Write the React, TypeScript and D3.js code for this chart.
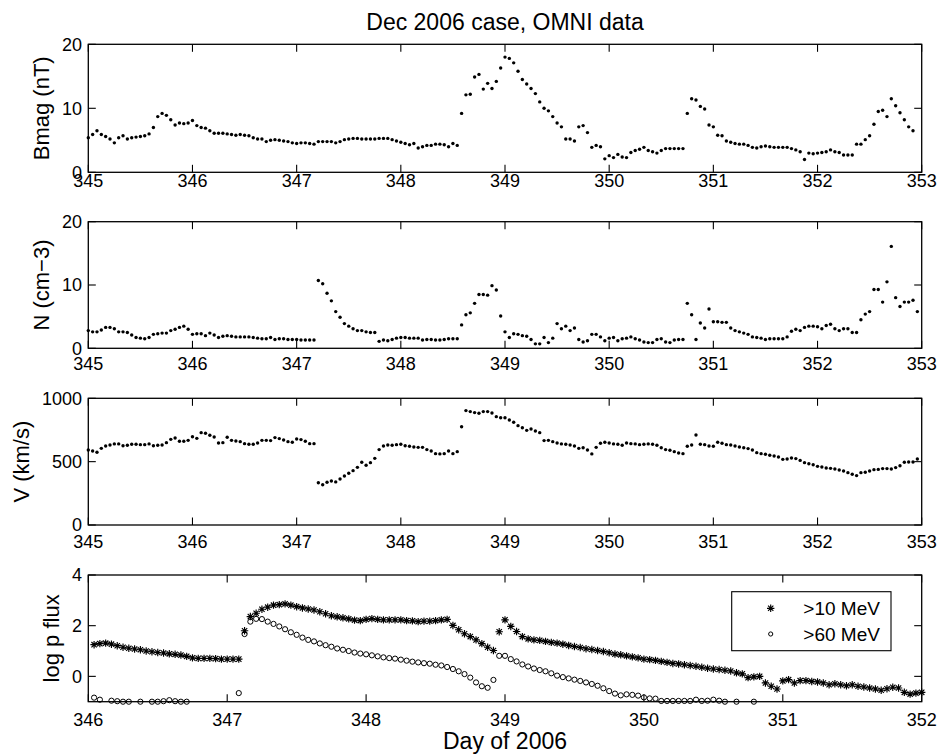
import React from 'react';
import * as d3 from 'd3';

// ---------------- DATA ----------------
// Hourly OMNI samples, first sample at day 345.0
const omniStartDay = 345;
const samplesPerDay = 24;

const bmag = [
  5.4, 5.9, 6.5, 5.9, 5.6, 5.2, 4.6, 5.4, 5.7, 5.2,
  5.4, 5.5, 5.6, 5.7, 6.0, 7.0, 8.7, 9.2, 8.9, 8.2,
  7.4, 7.7, 7.6, 7.7, 8.1, 7.3, 7.0, 6.9, 6.5, 6.1,
  6.1, 6.1, 6.0, 5.9, 5.8, 5.9, 5.8, 5.7, 5.4, 5.2,
  5.2, 4.8, 5.0, 5.1, 5.0, 4.9, 4.8, 4.6, 4.5, 4.6,
  4.6, 4.5, 4.4, 4.8, 4.8, 4.8, 4.8, 4.6, 4.8, 5.1,
  5.2, 5.3, 5.3, 5.2, 5.2, 5.2, 5.2, 5.3, 5.3, 5.3,
  5.1, 4.9, 4.7, 4.5, 4.3, 4.5, 3.8, 4.0, 4.2, 4.2,
  4.4, 4.4, 4.3, 4.0, 4.5, 4.2, 9.2, 12.1, 12.2, 14.9,
  15.3, 13.0, 13.9, 13.1, 14.2, 16.3, 18.0, 17.8, 17.1, 15.8,
  14.5, 13.8, 13.1, 12.3, 11.0, 10.0, 9.6, 8.7, 7.7, 7.1,
  5.2, 5.2, 4.9, 7.1, 7.3, 6.2, 3.9, 4.2, 4.0, 2.1,
  2.6, 2.3, 2.8, 2.4, 2.3, 3.1, 3.4, 3.6, 3.9, 3.4,
  3.2, 3.0, 3.4, 3.7, 3.7, 3.7, 3.7, 3.7, 9.2, 11.5,
  11.3, 10.3, 9.9, 7.4, 7.1, 5.8, 5.7, 4.9, 4.7, 4.5,
  4.4, 4.4, 4.2, 3.9, 3.8, 4.0, 4.1, 4.0, 3.9, 3.9,
  3.9, 3.9, 3.7, 3.5, 3.2, 2.0, 3.0, 2.9, 3.0, 3.1,
  3.2, 3.5, 3.2, 3.1, 2.7, 2.7, 2.7, 4.4, 4.4, 5.1,
  5.7, 7.5, 9.5, 9.7, 8.7, 11.5, 10.4, 9.3, 8.2, 7.1,
  6.5,
];

const density = [
  2.8, 2.6, 2.6, 2.9, 3.3, 3.3, 3.1, 2.6, 2.6, 2.5,
  2.1, 1.7, 1.6, 1.5, 1.7, 2.2, 2.3, 2.4, 2.4, 2.8,
  3.0, 3.3, 3.5, 3.0, 2.2, 2.3, 2.3, 2.0, 2.4, 2.1,
  1.7, 1.9, 2.0, 1.9, 1.8, 1.8, 1.8, 1.8, 1.7, 1.6,
  1.5, 1.5, 1.7, 1.4, 1.5, 1.5, 1.4, 1.4, 1.4, 1.3,
  1.3, 1.3, 1.3, 10.7, 10.2, 8.7, 7.5, 5.8, 4.9, 3.9,
  3.5, 3.1, 2.8, 2.8, 2.6, 2.5, 2.5, 1.1, 1.3, 1.2,
  1.4, 1.6, 1.7, 1.7, 1.6, 1.6, 1.6, 1.3, 1.4, 1.4,
  1.3, 1.3, 1.4, 1.5, 1.5, 1.5, 3.7, 5.3, 5.6, 7.1,
  8.5, 8.5, 8.4, 9.9, 9.2, 5.1, 2.6, 1.7, 2.3, 2.2,
  2.0, 1.9, 1.4, 0.7, 0.7, 1.7, 0.9, 1.6, 3.9, 3.1,
  3.5, 2.8, 3.2, 1.4, 1.0, 1.2, 2.2, 2.2, 1.8, 1.2,
  1.6, 1.7, 1.2, 1.5, 1.6, 1.8, 1.5, 1.3, 1.0, 0.9,
  0.9, 1.4, 1.5, 1.0, 0.9, 1.3, 1.4, 1.4, 7.1, 5.3,
  1.4, 4.0, 3.2, 6.2, 4.2, 4.2, 4.1, 4.1, 3.2, 2.8,
  2.6, 2.4, 2.2, 1.8, 1.7, 1.6, 1.4, 1.5, 1.5, 1.5,
  1.5, 1.8, 2.7, 3.0, 2.8, 3.3, 3.5, 3.5, 3.4, 3.1,
  3.6, 3.8, 3.1, 2.8, 3.1, 3.1, 2.5, 2.5, 4.5, 5.4,
  5.8, 9.3, 9.3, 7.3, 10.5, 16.1, 8.0, 6.6, 7.3, 7.3,
  7.6, 5.8,
];

const speed = [
  592, 584, 574, 605, 624, 632, 640, 640, 626, 629,
  637, 637, 634, 634, 640, 626, 629, 632, 650, 676,
  687, 661, 661, 668, 697, 684, 729, 724, 708, 695,
  647, 650, 692, 668, 663, 658, 642, 637, 637, 647,
  668, 668, 666, 690, 682, 671, 658, 653, 679, 674,
  661, 642, 642, 334, 318, 337, 347, 340, 363, 387,
  408, 429, 455, 495, 471, 492, 526, 595, 624, 632,
  629, 634, 637, 626, 621, 616, 613, 613, 595, 584,
  563, 561, 563, 584, 563, 579, 776, 903, 895, 887,
  882, 895, 895, 884, 855, 847, 847, 829, 811, 784,
  768, 747, 758, 742, 729, 666, 668, 658, 647, 640,
  637, 632, 624, 605, 610, 592, 561, 613, 645, 653,
  647, 640, 637, 629, 647, 642, 640, 634, 637, 640,
  637, 629, 610, 595, 590, 579, 568, 563, 621, 632,
  710, 637, 634, 624, 621, 653, 645, 634, 632, 624,
  616, 610, 603, 592, 571, 563, 558, 550, 545, 537,
  518, 521, 529, 524, 510, 492, 484, 476, 463, 458,
  450, 447, 442, 434, 426, 413, 400, 390, 413, 416,
  426, 437, 439, 445, 445, 442, 453, 468, 495, 497,
  497, 521,
];

// Proton flux (log10), hourly, first sample at day 346 + 1/24
const fluxStartDay = 346 + 1 / 24;

const flux10 = [
  1.25, 1.29, 1.31, 1.27, 1.21, 1.15, 1.11, 1.08, 1.05, 1.00,
  0.97, 0.94, 0.92, 0.89, 0.87, 0.84, 0.79, 0.73, 0.71, 0.71,
  0.71, 0.70, 0.68, 0.68, 0.68, 0.68, 1.80, 2.36, 2.49, 2.65,
  2.73, 2.81, 2.83, 2.86, 2.81, 2.75, 2.70, 2.66, 2.62, 2.55,
  2.47, 2.39, 2.35, 2.31, 2.27, 2.22, 2.20, 2.25, 2.28, 2.25,
  2.23, 2.23, 2.23, 2.23, 2.20, 2.19, 2.16, 2.18, 2.18, 2.20,
  2.23, 2.25, 2.01, 1.84, 1.68, 1.57, 1.44, 1.29, 1.15, 1.02,
  1.76, 2.23, 1.97, 1.77, 1.57, 1.48, 1.44, 1.42, 1.38, 1.34,
  1.31, 1.27, 1.22, 1.18, 1.14, 1.09, 1.06, 1.02, 0.98, 0.93,
  0.88, 0.85, 0.81, 0.77, 0.73, 0.68, 0.66, 0.63, 0.59, 0.55,
  0.51, 0.49, 0.46, 0.43, 0.40, 0.36, 0.32, 0.29, 0.27, 0.24,
  0.21, 0.14, 0.10, -0.05, -0.02, 0.00, -0.26, -0.39, -0.50, -0.18,
  -0.13, -0.26, -0.17, -0.17, -0.20, -0.22, -0.26, -0.33, -0.29, -0.33,
  -0.37, -0.33, -0.39, -0.42, -0.46, -0.50, -0.55, -0.49, -0.43, -0.46,
  -0.63, -0.70, -0.66, -0.63,
];

const flux60: (number | null)[] = [
  -0.84, -0.92, null, -0.96, -0.98, -1.0, -1.0, null, -1.0, null,
  -1.0, -1.0, -0.98, -0.94, -0.98, -1.0, -1.0, null, null, null,
  null, null, null, null, null, -0.66, 1.67, 2.16, 2.27, 2.26,
  2.16, 2.07, 1.97, 1.86, 1.74, 1.64, 1.53, 1.44, 1.38, 1.30,
  1.23, 1.17, 1.10, 1.05, 1.00, 0.94, 0.90, 0.87, 0.83, 0.79,
  0.75, 0.72, 0.70, 0.66, 0.62, 0.58, 0.55, 0.52, 0.50, 0.46,
  0.43, 0.37, 0.29, 0.20, 0.09, -0.05, -0.24, -0.39, -0.45, -0.14,
  0.81, 0.81, 0.68, 0.59, 0.47, 0.39, 0.31, 0.25, 0.20, 0.12,
  0.03, -0.03, -0.08, -0.13, -0.18, -0.24, -0.30, -0.37, -0.47, -0.58,
  -0.68, -0.75, -0.71, -0.73, -0.76, -0.83, -0.87, -0.88, -0.97, -0.97,
  -0.97, -0.97, -0.97, -0.97, -0.92, -0.97, -0.96, -0.92, -0.96, -1.0,
  null, -1.0, null, null, -1.0,
];

const omniDayTicks = [345, 346, 347, 348, 349, 350, 351, 352, 353];
const fluxDayTicks = [346, 347, 348, 349, 350, 351, 352];
const bmagTicks = [0, 10, 20];
const densityTicks = [0, 10, 20];
const speedTicks = [0, 500, 1000];
const fluxTicks = [0, 2, 4];

const titleText = 'Dec 2006 case, OMNI data';
const xAxisLabel = 'Day of 2006';
const bmagLabel = 'Bmag (nT)';
const densityLabel = 'N (cm\u22123)';
const speedLabel = 'V (km/s)';
const fluxLabel = 'log p flux';
const legendLabels = ['>10 MeV', '>60 MeV'];

// ---------------- LAYOUT ----------------
const W = 939;
const H = 755;
const LEFT = 88.3;
const RIGHT = 921.7;
const FONT = '"Liberation Sans", Arial, Helvetica, sans-serif';
const TICK_LEN = 7.5;

type PanelCfg = {
  top: number;
  bottom: number;
  xDomain: [number, number];
  yDomain: [number, number];
  xTicks: number[];
  yTicks: number[];
  label: string;
  labelX: number;
  xLabelOffset: number;
};

const panels: PanelCfg[] = [
  { top: 44.3, bottom: 172.3, xDomain: [345, 353], yDomain: [0, 20], xTicks: omniDayTicks, yTicks: bmagTicks, label: bmagLabel, labelX: 49.2, xLabelOffset: 14.6 },
  { top: 221.7, bottom: 348.3, xDomain: [345, 353], yDomain: [0, 20], xTicks: omniDayTicks, yTicks: densityTicks, label: densityLabel, labelX: 49.2, xLabelOffset: 21.7 },
  { top: 398.3, bottom: 525, xDomain: [345, 353], yDomain: [0, 1000], xTicks: omniDayTicks, yTicks: speedTicks, label: speedLabel, labelX: 29.2, xLabelOffset: 22.7 },
  { top: 575, bottom: 701.7, xDomain: [346, 352], yDomain: [-1, 4], xTicks: fluxDayTicks, yTicks: fluxTicks, label: fluxLabel, labelX: 58.5, xLabelOffset: 24.5 },
];

function scalesFor(p: PanelCfg) {
  const x = d3.scaleLinear().domain(p.xDomain).range([LEFT, RIGHT]);
  const y = d3.scaleLinear().domain(p.yDomain).range([p.bottom, p.top]);
  return { x, y };
}

function asteriskPath(cx: number, cy: number, s: number) {
  const d = s * 0.72;
  const p = d3.path();
  p.moveTo(cx - s, cy); p.lineTo(cx + s, cy);
  p.moveTo(cx, cy - s); p.lineTo(cx, cy + s);
  p.moveTo(cx - d, cy - d); p.lineTo(cx + d, cy + d);
  p.moveTo(cx - d, cy + d); p.lineTo(cx + d, cy - d);
  return p.toString();
}

function Axes({ p }: { p: PanelCfg }) {
  const { x, y } = scalesFor(p);
  const fmt = d3.format('d');
  return (
    <g>
      <rect x={LEFT} y={p.top} width={RIGHT - LEFT} height={p.bottom - p.top} fill="none" stroke="#000" strokeWidth={1.3} />
      {p.xTicks.map((t) => (
        <g key={'xt' + t}>
          <line x1={x(t)} x2={x(t)} y1={p.bottom} y2={p.bottom - TICK_LEN} stroke="#000" strokeWidth={1.1} />
          <line x1={x(t)} x2={x(t)} y1={p.top} y2={p.top + TICK_LEN} stroke="#000" strokeWidth={1.1} />
          <text x={x(t)} y={p.bottom + p.xLabelOffset} textAnchor="middle" fontSize={18} fontFamily={FONT} fill="#000">{fmt(t)}</text>
        </g>
      ))}
      {p.yTicks.map((t) => (
        <g key={'yt' + t}>
          <line x1={LEFT} x2={LEFT + TICK_LEN} y1={y(t)} y2={y(t)} stroke="#000" strokeWidth={1.1} />
          <line x1={RIGHT} x2={RIGHT - TICK_LEN} y1={y(t)} y2={y(t)} stroke="#000" strokeWidth={1.1} />
          <text x={82} y={y(t)} dy="0.36em" textAnchor="end" fontSize={18} fontFamily={FONT} fill="#000">{fmt(t)}</text>
        </g>
      ))}
      <text transform={`translate(${p.labelX},${(p.top + p.bottom) / 2}) rotate(-90)`} textAnchor="middle" fontSize={22} fontFamily={FONT} fill="#000">{p.label}</text>
    </g>
  );
}

function DotSeries({ p, values, start }: { p: PanelCfg; values: number[]; start: number }) {
  const { x, y } = scalesFor(p);
  return (
    <g>
      {values.map((v, i) => (
        <circle key={i} cx={x(start + i / samplesPerDay)} cy={y(v)} r={1.7} fill="#000" />
      ))}
    </g>
  );
}

export default function App() {
  const fp = panels[3];
  const { x: fx, y: fy } = scalesFor(fp);
  const asterD = flux10
    .map((v, i) => asteriskPath(fx(fluxStartDay + i / samplesPerDay), fy(v), 3.7))
    .join(' ');
  const legX = 731.7, legY = 591.7, legW = 159.3, legH = 59;
  return (
    <svg width={W} height={H} style={{ position: 'absolute', left: 0, top: 0, background: '#fff' }}>
      <rect x={0} y={0} width={W} height={H} fill="#fff" />
      <text x={(LEFT + RIGHT) / 2} y={29.5} textAnchor="middle" fontSize={23} fontFamily={FONT} fill="#000">{titleText}</text>
      {panels.map((p, i) => <Axes key={i} p={p} />)}
      <DotSeries p={panels[0]} values={bmag} start={omniStartDay} />
      <DotSeries p={panels[1]} values={density} start={omniStartDay} />
      <DotSeries p={panels[2]} values={speed} start={omniStartDay} />
      <path d={asterD} stroke="#000" strokeWidth={1.15} fill="none" />
      <g>
        {flux60.map((v, i) =>
          v == null ? null : (
            <circle key={i} cx={fx(fluxStartDay + i / samplesPerDay)} cy={fy(v)} r={2.6} fill="none" stroke="#000" strokeWidth={1} />
          )
        )}
      </g>
      <g>
        <rect x={legX} y={legY} width={legW} height={legH} fill="#fff" stroke="#000" strokeWidth={1.1} />
        <path d={asteriskPath(770.7, 608.3, 3.7)} stroke="#000" strokeWidth={1.15} fill="none" />
        <circle cx={770.7} cy={634} r={2.1} fill="none" stroke="#000" strokeWidth={1} />
        <text x={803.3} y={608.3} dy="0.36em" fontSize={19} fontFamily={FONT} fill="#000">{legendLabels[0]}</text>
        <text x={803.3} y={634} dy="0.36em" fontSize={19} fontFamily={FONT} fill="#000">{legendLabels[1]}</text>
      </g>
      <text x={(LEFT + RIGHT) / 2} y={749} textAnchor="middle" fontSize={23} fontFamily={FONT} fill="#000">{xAxisLabel}</text>
    </svg>
  );
}
